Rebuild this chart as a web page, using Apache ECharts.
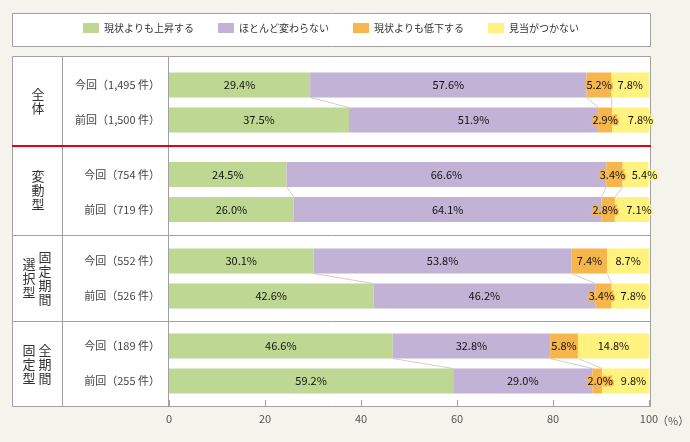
<!DOCTYPE html>
<html>
<head>
<meta charset="utf-8">
<script src="https://cdn.jsdelivr.net/npm/echarts@6/dist/echarts.min.js"></script>
<style>
  html, body { margin: 0; padding: 0; background: #f5f4ec; }
  #chart { width: 690px; height: 442px; }
</style>
</head>
<body>
<div id="chart"></div>
<script>
// データ
var seriesNames = ['現状よりも上昇する', 'ほとんど変わらない', '現状よりも低下する', '見当がつかない'];
var rowNames = ['今回（1,495 件）', '前回（1,500 件）', '今回（754 件）', '前回（719 件）',
                '今回（552 件）', '前回（526 件）', '今回（189 件）', '前回（255 件）'];
var rise    = [29.4, 37.5, 24.5, 26.0, 30.1, 42.6, 46.6, 59.2];
var same    = [57.6, 51.9, 66.6, 64.1, 53.8, 46.2, 32.8, 29.0];
var fall    = [5.2, 2.9, 3.4, 2.8, 7.4, 3.4, 5.8, 2.0];
var unknown = [7.8, 7.8, 5.4, 7.1, 8.7, 7.8, 14.8, 9.8];
var xTicks  = [0, 20, 40, 60, 80, 100];

// レイアウト
var colors = ['#bed893', '#c2b2d6', '#f7b64c', '#fff27e'];
var gridTops = [67.5, 157, 243.5, 328.5];
var barW = 25;
// ラベルの横ずらし（重なり回避）
var shiftFall    = [0, 0, -2, -3, 0, -2, 0, 3];
var shiftUnknown = [0, 10, 9, 7, 0, 3, 0, 8];
var font = "'Noto Sans CJK JP', 'Noto Sans', sans-serif";
var lineColor = '#a0a0a0';

var chart = echarts.init(document.getElementById('chart'));
var values = [rise, same, fall, unknown];
var shifts = [null, null, shiftFall, shiftUnknown];

var grids = [], xAxes = [], yAxes = [], series = [];
gridTops.forEach(function (top, g) {
    var last = g === gridTops.length - 1;
    grids.push({ left: 169, right: 41, top: top, height: 70 });
    xAxes.push({
        gridIndex: g, type: 'value', min: xTicks[0], max: xTicks[xTicks.length - 1],
        interval: xTicks[1] - xTicks[0],
        show: last, offset: last ? 8.5 : 0,
        axisLine: { show: false },
        axisTick: { show: last, inside: true, length: 7, lineStyle: { color: lineColor } },
        axisLabel: { show: last, color: '#555', fontSize: 11, fontFamily: font, margin: 6 },
        splitLine: { show: false }
    });
    yAxes.push({
        gridIndex: g, type: 'category', inverse: true,
        data: [rowNames[g * 2], rowNames[g * 2 + 1]],
        axisLine: { show: false }, axisTick: { show: false },
        axisLabel: { color: '#444', fontSize: 11, fontFamily: font, margin: 9 }
    });
    values.forEach(function (arr, s) {
        var data = [0, 1].map(function (k) {
            var i = g * 2 + k;
            var item = { value: arr[i] };
            if (shifts[s]) item.label = { offset: [shifts[s][i], 0] };
            return item;
        });
        var lab = {
            show: true, position: 'inside', color: '#111', fontSize: 11, fontFamily: font,
            formatter: function (p) { return p.value.toFixed(1) + '%'; }
        };
        if (s >= 2) { lab.textBorderColor = colors[s]; lab.textBorderWidth = 3; }
        series.push({
            name: seriesNames[s], type: 'bar', stack: 'g' + g,
            xAxisIndex: g, yAxisIndex: g, barWidth: barW,
            itemStyle: { color: colors[s] }, label: lab, data: data
        });
    });
    // 今回と前回の境界をつなぐ線
    var links = [];
    var cNow = 0, cPrev = 0;
    for (var s = 0; s < 3; s++) {
        cNow += values[s][g * 2];
        cPrev += values[s][g * 2 + 1];
        links.push([cNow, 0, cPrev]);
    }
    series.push({
        type: 'custom', xAxisIndex: g, yAxisIndex: g, z: 1,
        encode: { x: [0, 2], y: 1 },
        data: links,
        renderItem: function (params, api) {
            var a = api.coord([api.value(0), 0]);
            var b = api.coord([api.value(2), 1]);
            return {
                type: 'line',
                shape: { x1: a[0], y1: a[1] + barW / 2, x2: b[0], y2: b[1] - barW / 2 },
                style: { stroke: '#cfcfcf', lineWidth: 1 }
            };
        }
    });
});

function txt(x, y, text, size, color, align, lh) {
    return {
        type: 'text', z: 10,
        style: {
            x: x, y: y, text: text, fill: color || '#333',
            fontSize: size || 13, fontFamily: font, lineHeight: lh || 14,
            align: align || 'center', verticalAlign: 'middle',
            textAlign: align || 'center', textVerticalAlign: 'middle'
        }
    };
}
function hline(y, color, w) {
    return { type: 'line', z: 5, shape: { x1: 12, y1: y, x2: 651, y2: y },
             style: { stroke: color || lineColor, lineWidth: w || 1 } };
}
function vline(x) {
    return { type: 'line', z: 5, shape: { x1: x, y1: 56.5, x2: x, y2: 406.5 },
             style: { stroke: lineColor, lineWidth: 1 } };
}

var graphic = [
    { type: 'rect', z: -1, shape: { x: 12.5, y: 13.5, width: 638, height: 33 },
      style: { fill: '#fff', stroke: lineColor, lineWidth: 1 } },
    { type: 'rect', z: -1, shape: { x: 12.5, y: 56.5, width: 638, height: 350 },
      style: { fill: '#fff', stroke: lineColor, lineWidth: 1 } },
    vline(62.5), vline(168.5),
    hline(235.5), hline(321.5),
    hline(146, '#e60012', 2),
    txt(38, 101, '全\n体'),
    txt(38, 190, '変\n動\n型'),
    txt(45, 278, '固\n定\n期\n間'),
    txt(29, 278, '選\n択\n型'),
    txt(45, 364, '全\n期\n間'),
    txt(29, 364, '固\n定\n型'),
    txt(657, 421, '（%）', 11, '#555', 'left', 11)
];

var option = {
    backgroundColor: '#f5f4ec',
    animation: false,
    textStyle: { fontFamily: font },
    legend: {
        data: seriesNames, left: 83, top: 23, padding: 0,
        icon: 'rect', itemWidth: 16, itemHeight: 10, itemGap: 24,
        textStyle: { fontSize: 10, color: '#333', fontFamily: font }
    },
    grid: grids, xAxis: xAxes, yAxis: yAxes, series: series, graphic: graphic
};
chart.setOption(option);
</script>
</body>
</html>
